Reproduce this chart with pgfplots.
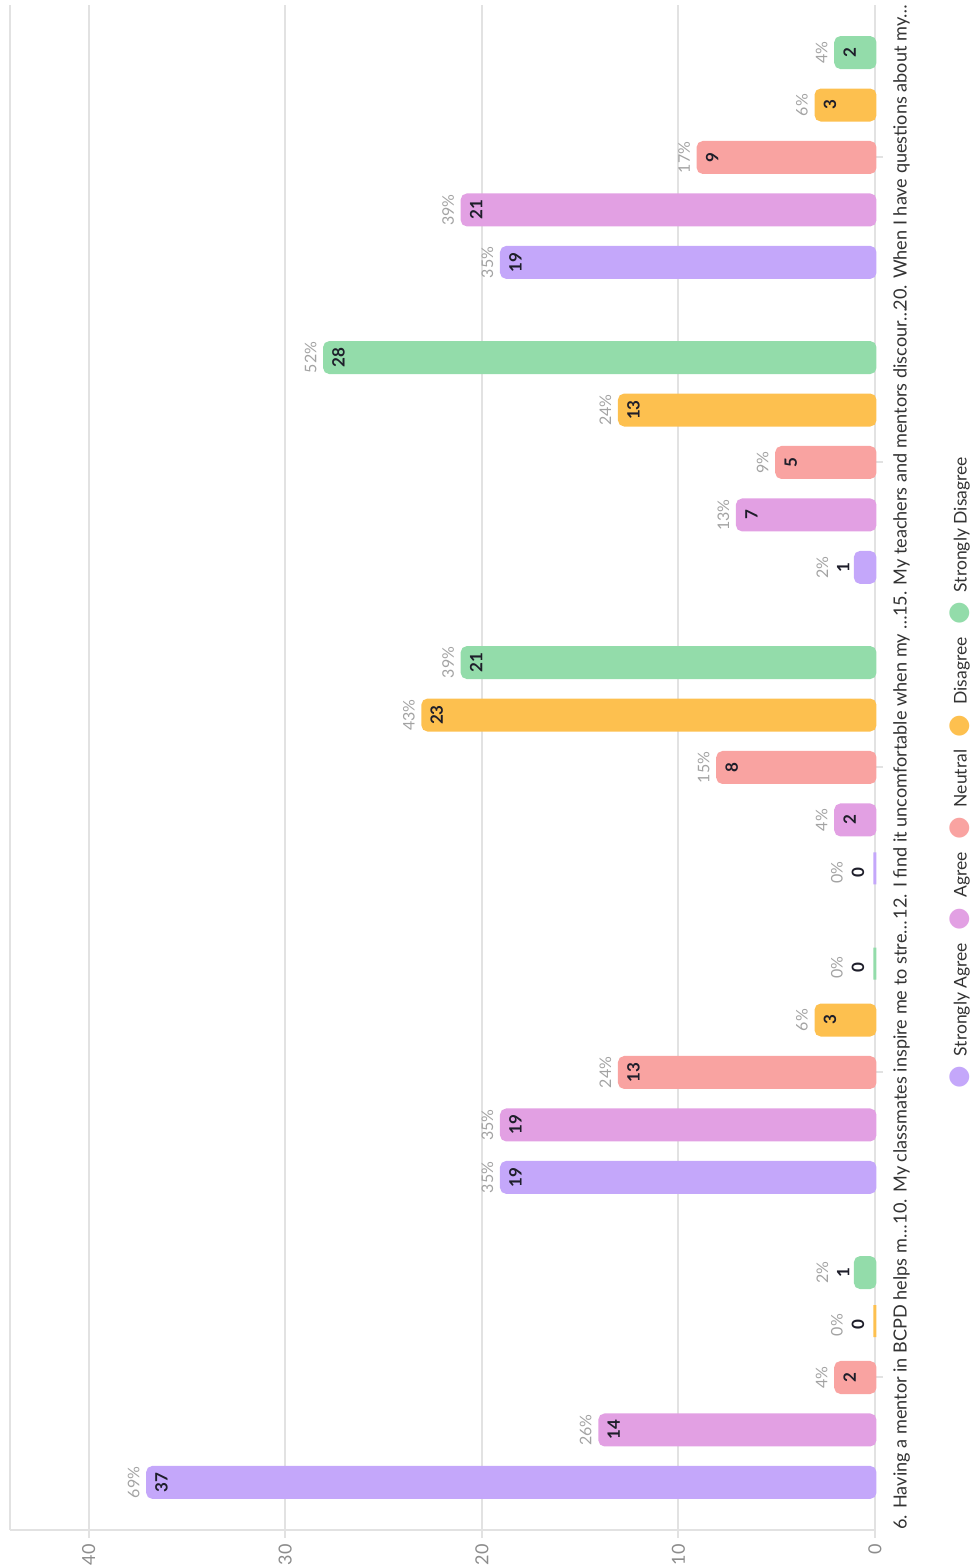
\documentclass[border=0pt]{standalone}
\usepackage{fontspec}
\setmainfont{Lato}
\newfontfamily\dejavu{DejaVu Sans}
\usepackage{pgfplots}
\usepackage{pgfplotstable}
\pgfplotsset{compat=1.18}

\definecolor{cSA}{HTML}{C4A7FA}
\definecolor{cA}{HTML}{E2A0E3}
\definecolor{cN}{HTML}{F9A3A1}
\definecolor{cD}{HTML}{FDC04F}
\definecolor{cSD}{HTML}{93DCAA}
\definecolor{gridc}{HTML}{E2E2E2}
\definecolor{pctc}{HTML}{A3A3A3}
\definecolor{cntc}{HTML}{1E1E2A}
\definecolor{labc}{HTML}{333333}
\definecolor{tickc}{HTML}{8C8C8C}

% pos = category index + offset; val = count; pct = percent; cs/ps = label shifts (pt)
\pgfplotstableread{
pos    val pct cs   ps
-0.344 37  69  7    -7
0.656  19  35  7    -7
1.656  0   0   -8.5 -19
2.656  1   2   -6   -16.5
3.656  19  35  7    -7
}\tSA
\pgfplotstableread{
pos    val pct cs ps
-0.172 14  26  7  -7
0.828  19  35  7  -7
1.828  2   4   7  -7
2.828  7   13  7  -7
3.828  21  39  7  -7
}\tA
\pgfplotstableread{
pos val pct cs ps
0   2   4   7  -7
1   13  24  7  -7
2   8   15  7  -7
3   5   9   7  -7
4   9   17  7  -7
}\tN
\pgfplotstableread{
pos   val pct cs   ps
0.172 0   0   -8.5 -19
1.172 3   6   7    -7
2.172 23  43  7    -7
3.172 13  24  7    -7
4.172 3   6   7    -7
}\tD
\pgfplotstableread{
pos   val pct cs   ps
0.344 1   2   -6   -16.5
1.344 0   0   -8.5 -19
2.344 21  39  7    -7
3.344 28  52  7    -7
4.344 2   4   7    -7
}\tSD

\pgfplotsset{
  mybar/.style={xbar, bar shift=0pt, bar width=0.0984, fill=#1, draw=#1, line width=1.5pt, rounded corners=2.5pt},
  cntlabel/.style={draw=none, mark=none, nodes near coords={\pgfplotspointmeta}, point meta=explicit symbolic,
    visualization depends on={\thisrow{cs} \as \lshift},
    every node near coord/.append style={xshift=\lshift pt, rotate=90, anchor=center, inner sep=0pt,
      font=\fontsize{8.5}{8.5}\selectfont\bfseries, text=cntc}},
  pctlabel/.style={draw=none, mark=none, nodes near coords={\pgfplotspointmeta\%}, point meta=explicit symbolic,
    visualization depends on={\thisrow{ps} \as \lshift},
    every node near coord/.append style={xshift=\lshift pt, rotate=90, anchor=center, inner sep=0pt,
      font=\fontsize{8}{8}\selectfont, text=pctc}},
}
\newcommand{\legdot}[1]{{\dejavu\fontsize{13}{13}\selectfont\textcolor{#1}{●}}\hspace{5pt}}

\begin{document}
\begin{tikzpicture}
\useasboundingbox (-5pt,-18pt) rectangle (480.5pt,765pt);
\begin{axis}[
  at={(0,0)}, anchor=south west,
  scale only axis, width=432.5pt, height=762.5pt,
  xmin=0, xmax=44, x dir=reverse,
  ymin=-0.5, ymax=4.5,
  axis x line*=bottom, axis y line*=box,
  axis line style={draw=gridc, line width=1pt},
  xtick={0,10,20,30,40},
  ytick={0,1,2,3,4},
  ytick pos=right,
  yticklabels={6. Having a mentor in BCPD helps m…, 10. My classmates inspire me to stre…, 12. I find it uncomfortable when my …, 15. My teachers and mentors discour…, 20. When I have questions about my…},
  tick align=outside, major tick length=4pt,
  tick style={draw=gridc, line width=1pt},
  xmajorgrids, grid style={draw=gridc, line width=1pt},
  /pgf/number format/assume math mode=true,
  xticklabel style={rotate=90, anchor=east, text=tickc, font=\fontsize{9}{9}\selectfont, inner sep=3pt},
  yticklabel style={rotate=90, anchor=north, text=labc, font=\fontsize{9.05}{10}\selectfont, inner sep=5pt},
  clip=false,
]
\addplot[mybar=cSA] table[x=val, y=pos] {\tSA};
\addplot[mybar=cA]  table[x=val, y=pos] {\tA};
\addplot[mybar=cN]  table[x=val, y=pos] {\tN};
\addplot[mybar=cD]  table[x=val, y=pos] {\tD};
\addplot[mybar=cSD] table[x=val, y=pos] {\tSD};

\addplot[cntlabel] table[x=val, y=pos, meta=val] {\tSA};
\addplot[cntlabel] table[x=val, y=pos, meta=val] {\tA};
\addplot[cntlabel] table[x=val, y=pos, meta=val] {\tN};
\addplot[cntlabel] table[x=val, y=pos, meta=val] {\tD};
\addplot[cntlabel] table[x=val, y=pos, meta=val] {\tSD};

\addplot[pctlabel] table[x=val, y=pos, meta=pct] {\tSA};
\addplot[pctlabel] table[x=val, y=pos, meta=pct] {\tA};
\addplot[pctlabel] table[x=val, y=pos, meta=pct] {\tN};
\addplot[pctlabel] table[x=val, y=pos, meta=pct] {\tD};
\addplot[pctlabel] table[x=val, y=pos, meta=pct] {\tSD};
\end{axis}
\node[rotate=90, anchor=center, inner sep=0pt, text=labc, font=\fontsize{8.75}{10}\selectfont] at (475pt,378.5pt)
  {\legdot{cSA}Strongly Agree\hspace{6.25pt}\legdot{cA}Agree\hspace{6.25pt}\legdot{cN}Neutral\hspace{6.25pt}\legdot{cD}Disagree\hspace{6.25pt}\legdot{cSD}Strongly Disagree};
\end{tikzpicture}
\end{document}
